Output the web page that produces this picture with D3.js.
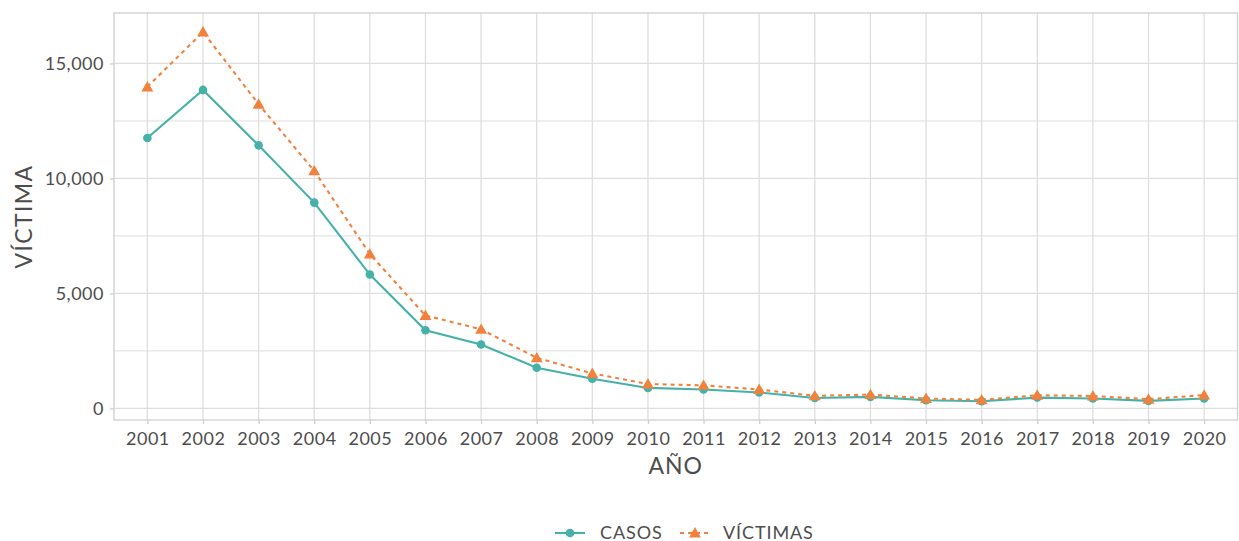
<!DOCTYPE html>
<html><head><meta charset="utf-8">
<script src="https://cdn.jsdelivr.net/npm/d3@7"></script>
<style>body{margin:0;background:#fff}svg{display:block}text{font-family:Lato,"Open Sans",sans-serif}</style>
</head><body><svg id="c" width="1239" height="541"></svg>
<script>
const years = ["2001","2002","2003","2004","2005","2006","2007","2008","2009","2010","2011","2012","2013","2014","2015","2016","2017","2018","2019","2020"];
const casos = [11760,13850,11440,8950,5820,3400,2780,1770,1290,890,820,690,450,500,355,310,470,430,325,430];
const victimas = [13980,16370,13230,10330,6710,4040,3440,2200,1520,1060,1000,820,545,600,430,370,570,540,400,580];
const yTicks = [0,5000,10000,15000];
const yMinor = [2500,7500,12500];
const seriesNames = ["CASOS","VÍCTIMAS"];
const colors = ["#45B1A8","#F1823D"];

const svg = d3.select("#c");
const L=114, R=1237.5, T=13, B=420;
const x = d3.scalePoint().domain(years).range([L,R]).padding(0.6);
const y = d3.scaleLinear().domain([-505,17195]).range([B,T]);

const g = svg.append("g");
// grid
g.selectAll(".ymin").data(yMinor).join("line").attr("x1",L).attr("x2",R)
 .attr("y1",d=>y(d)).attr("y2",d=>y(d)).attr("stroke","#dedede").attr("stroke-width",1);
g.selectAll(".ymaj").data(yTicks).join("line").attr("x1",L).attr("x2",R)
 .attr("y1",d=>y(d)).attr("y2",d=>y(d)).attr("stroke","#dedede").attr("stroke-width",1.3);
g.selectAll(".xmaj").data(years).join("line").attr("y1",T).attr("y2",B)
 .attr("x1",d=>x(d)).attr("x2",d=>x(d)).attr("stroke","#dedede").attr("stroke-width",1.3);
g.append("rect").attr("x",L).attr("y",T).attr("width",R-L).attr("height",B-T)
 .attr("fill","none").attr("stroke","#cfcfcf").attr("stroke-width",1.3);

// axes
const fmt = d3.format(",");
const ya = svg.append("g").attr("transform",`translate(${L},0)`)
 .call(d3.axisLeft(y).tickValues(yTicks).tickFormat(fmt).tickSize(4).tickPadding(6));
const xa = svg.append("g").attr("transform",`translate(0,${B})`)
 .call(d3.axisBottom(x).tickSize(4).tickPadding(8));
[ya,xa].forEach(a=>{a.select(".domain").remove();
 a.selectAll(".tick line").attr("stroke","#cfcfcf").attr("stroke-width",1.3);
 a.selectAll(".tick text").attr("fill","#4d4d4d").style("font-size","18px").style("letter-spacing","0.5px");});

// titles
svg.append("text").attr("x",(L+R)/2).attr("y",474).attr("text-anchor","middle")
 .attr("fill","#4d4d4d").style("font-size","23px").style("letter-spacing","1px").text("AÑO");
svg.append("text").attr("transform",`translate(32,${(T+B)/2}) rotate(-90)`).attr("text-anchor","middle")
 .attr("fill","#4d4d4d").style("font-size","23px").style("letter-spacing","1.4px").text("VÍCTIMA");

// lines
const data=[casos,victimas];
const line = d3.line().x((d,i)=>x(years[i])).y(d=>y(d));
data.forEach((s,k)=>{
 svg.append("path").datum(s).attr("d",line).attr("fill","none").attr("stroke",colors[k])
  .attr("stroke-width",2.1).attr("stroke-dasharray",k?"4,4":null);
});
svg.selectAll(".pc").data(casos).join("circle").attr("cx",(d,i)=>x(years[i])).attr("cy",d=>y(d))
 .attr("r",4.3).attr("fill",colors[0]);
const tri = d3.symbol().type(d3.symbolTriangle).size(62);
svg.selectAll(".pv").data(victimas).join("path").attr("d",tri)
 .attr("transform",(d,i)=>`translate(${x(years[i])},${y(d)+1})`).attr("fill",colors[1]);

// legend
const lg = svg.append("g");
const items=[{x:555,tx:600},{x:680,tx:723}];
items.forEach((it,k)=>{
 lg.append("line").attr("x1",it.x).attr("x2",it.x+30).attr("y1",533).attr("y2",533)
  .attr("stroke",colors[k]).attr("stroke-width",2.1).attr("stroke-dasharray",k?"4,4":null);
 if(k===0) lg.append("circle").attr("cx",it.x+15).attr("cy",533).attr("r",4.3).attr("fill",colors[0]);
 else lg.append("path").attr("d",tri).attr("transform",`translate(${it.x+15},534)`).attr("fill",colors[1]);
 lg.append("text").attr("x",it.tx).attr("y",538.5).attr("fill","#4d4d4d").style("font-size","18px")
  .style("letter-spacing","0.9px").text(seriesNames[k]);
});
</script></body></html>
